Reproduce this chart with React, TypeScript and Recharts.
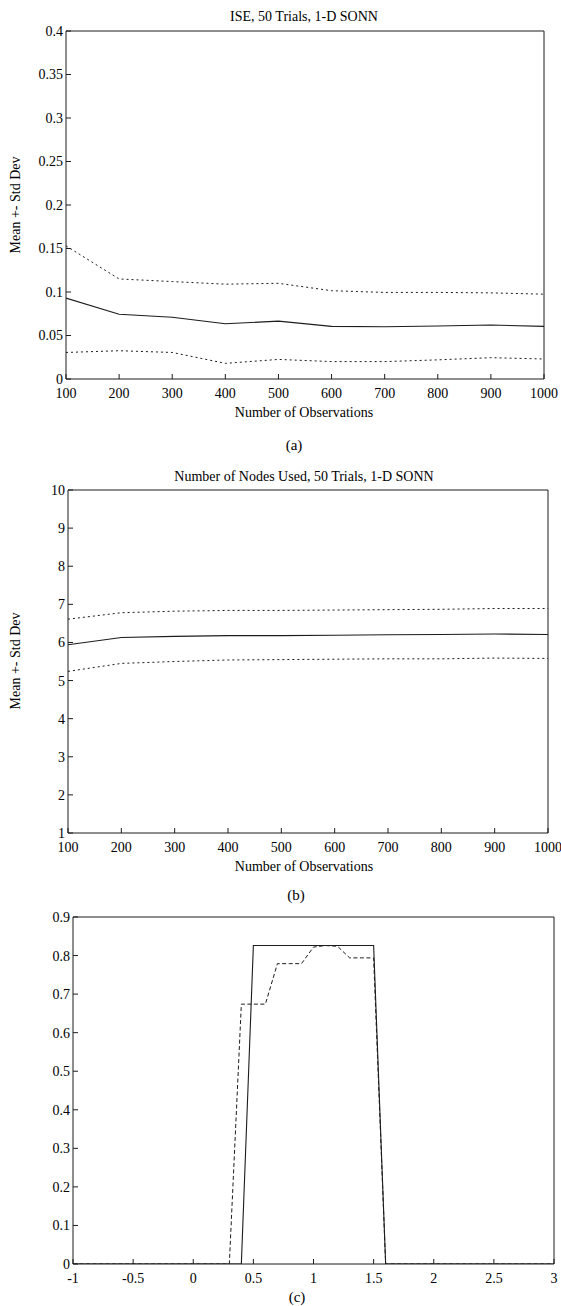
import { LineChart, Line, XAxis, YAxis } from 'recharts';

// (a) ISE vs number of observations
const observations = [100, 200, 300, 400, 500, 600, 700, 800, 900, 1000];
const iseMean = [0.093, 0.0745, 0.071, 0.0635, 0.0665, 0.0605, 0.06, 0.061, 0.062, 0.0605];
const iseUpper = [0.153, 0.115, 0.112, 0.109, 0.11, 0.1015, 0.0995, 0.0995, 0.099, 0.0975];
const iseLower = [0.0305, 0.0325, 0.0305, 0.018, 0.0225, 0.02, 0.02, 0.022, 0.0245, 0.023];
const iseTicks = [0, 0.05, 0.1, 0.15, 0.2, 0.25, 0.3, 0.35, 0.4];

// (b) nodes used vs number of observations
const nodesMean = [5.94, 6.13, 6.16, 6.18, 6.18, 6.19, 6.2, 6.21, 6.22, 6.21];
const nodesUpper = [6.61, 6.78, 6.82, 6.84, 6.84, 6.85, 6.86, 6.87, 6.89, 6.89];
const nodesLower = [5.24, 5.45, 5.5, 5.54, 5.55, 5.56, 5.57, 5.57, 5.59, 5.58];
const nodesTicks = [1, 2, 3, 4, 5, 6, 7, 8, 9, 10];

// (c) true vs estimated density
const densityX = [-1, 0.3, 0.4, 0.5, 0.6, 0.7, 0.8, 0.9, 1.0, 1.1, 1.2, 1.3, 1.4, 1.5, 1.6, 3];
const densityTrue = [0, 0, 0, 0.826, 0.826, 0.826, 0.826, 0.826, 0.826, 0.826, 0.826, 0.826, 0.826, 0.826, 0, 0];
const densityEst = [0, 0, 0.674, 0.674, 0.674, 0.779, 0.779, 0.779, 0.822, 0.826, 0.824, 0.794, 0.794, 0.794, 0, 0];
const densityXTicks = [-1, -0.5, 0, 0.5, 1, 1.5, 2, 2.5, 3];
const densityYTicks = [0, 0.1, 0.2, 0.3, 0.4, 0.5, 0.6, 0.7, 0.8, 0.9];

const FONT = '"Liberation Serif", "Times New Roman", serif';
const INK = '#1c1c1c';

const iseData = observations.map((x, i) => ({ x, mean: iseMean[i], upper: iseUpper[i], lower: iseLower[i] }));
const nodesData = observations.map((x, i) => ({ x, mean: nodesMean[i], upper: nodesUpper[i], lower: nodesLower[i] }));
const densityData = densityX.map((x, i) => ({ x, truth: densityTrue[i], est: densityEst[i] }));

// matlab style box: inward ticks on all four sides
const frame = (xTicks: number[], yTicks: number[], xh: number, yw: number) => {
  const xDomain = [xTicks[0], xTicks[xTicks.length - 1]];
  const yDomain = [yTicks[0], yTicks[yTicks.length - 1]];
  const line = { stroke: INK, strokeWidth: 1 };
  const tick = { fill: '#000', fontSize: 14, fontFamily: FONT };
  return [
    <XAxis key="xb" xAxisId="b" dataKey="x" type="number" domain={xDomain} ticks={xTicks} interval={0}
      allowDataOverflow height={xh} tickSize={-5} tickMargin={14} axisLine={line} tickLine={line} tick={tick} />,
    <XAxis key="xt" xAxisId="t" dataKey="x" type="number" orientation="top" mirror domain={xDomain} ticks={xTicks}
      interval={0} allowDataOverflow height={1} tickSize={5} axisLine={line} tickLine={line} tick={false} />,
    <YAxis key="yl" yAxisId="l" type="number" domain={yDomain} ticks={yTicks} interval={0}
      allowDataOverflow width={yw} tickSize={-5} tickMargin={8} axisLine={line} tickLine={line} tick={tick} />,
    <YAxis key="yr" yAxisId="r" type="number" orientation="right" mirror domain={yDomain} ticks={yTicks}
      interval={0} allowDataOverflow width={1} tickSize={5} axisLine={line} tickLine={line} tick={false} />,
  ];
};

const Txt = ({ x, y, size = 14, rotate = false, children }: any) => (
  <div
    style={{
      position: 'absolute',
      left: x,
      top: y,
      transform: `translate(-50%, -50%)${rotate ? ' rotate(-90deg)' : ''}`,
      fontFamily: FONT,
      fontSize: size,
      lineHeight: 1,
      whiteSpace: 'nowrap',
      color: '#000',
    }}
  >
    {children}
  </div>
);

export default function App() {
  return (
    <div style={{ position: 'absolute', left: 0, top: 0, width: 561, height: 1306, background: '#fff', overflow: 'hidden' }}>
      {/* (a) */}
      <Txt x={304} y={17}>ISE, 50 Trials, 1-D SONN</Txt>
      <Txt x={16} y={205} rotate>Mean +- Std Dev</Txt>
      <div style={{ position: 'absolute', left: 0, top: 0 }}>
        <LineChart width={561} height={400} data={iseData} margin={{ top: 31, right: 17, left: 0, bottom: 0 }}>
          {frame(observations, iseTicks, 21, 66)}
          <Line xAxisId="b" yAxisId="l" dataKey="upper" type="linear" stroke={INK} strokeWidth={1} strokeDasharray="2 3" dot={false} isAnimationActive={false} />
          <Line xAxisId="b" yAxisId="l" dataKey="mean" type="linear" stroke={INK} strokeWidth={1.1} dot={false} isAnimationActive={false} />
          <Line xAxisId="b" yAxisId="l" dataKey="lower" type="linear" stroke={INK} strokeWidth={1} strokeDasharray="2 3" dot={false} isAnimationActive={false} />
        </LineChart>
      </div>
      <Txt x={304} y={413}>Number of Observations</Txt>
      <Txt x={294} y={445} size={15}>(a)</Txt>

      {/* (b) */}
      <Txt x={304} y={477}>Number of Nodes Used, 50 Trials, 1-D SONN</Txt>
      <Txt x={16} y={661} rotate>Mean +- Std Dev</Txt>
      <div style={{ position: 'absolute', left: 0, top: 440 }}>
        <LineChart width={561} height={420} data={nodesData} margin={{ top: 50, right: 13, left: 0, bottom: 0 }}>
          {frame(observations, nodesTicks, 27, 68)}
          <Line xAxisId="b" yAxisId="l" dataKey="upper" type="linear" stroke={INK} strokeWidth={1} strokeDasharray="2 3" dot={false} isAnimationActive={false} />
          <Line xAxisId="b" yAxisId="l" dataKey="mean" type="linear" stroke={INK} strokeWidth={1.1} dot={false} isAnimationActive={false} />
          <Line xAxisId="b" yAxisId="l" dataKey="lower" type="linear" stroke={INK} strokeWidth={1} strokeDasharray="2 3" dot={false} isAnimationActive={false} />
        </LineChart>
      </div>
      <Txt x={304} y={867}>Number of Observations</Txt>
      <Txt x={296} y={895} size={15}>(b)</Txt>

      {/* (c) */}
      <div style={{ position: 'absolute', left: 0, top: 900 }}>
        <LineChart width={561} height={390} data={densityData} margin={{ top: 17, right: 7, left: 0, bottom: 0 }}>
          {frame(densityXTicks, densityYTicks, 26, 73)}
          <Line xAxisId="b" yAxisId="l" dataKey="est" type="linear" stroke={INK} strokeWidth={1} strokeDasharray="4 2.5" dot={false} isAnimationActive={false} />
          <Line xAxisId="b" yAxisId="l" dataKey="truth" type="linear" stroke={INK} strokeWidth={1.1} dot={false} isAnimationActive={false} />
        </LineChart>
      </div>
      <Txt x={297} y={1297} size={15}>(c)</Txt>
    </div>
  );
}
